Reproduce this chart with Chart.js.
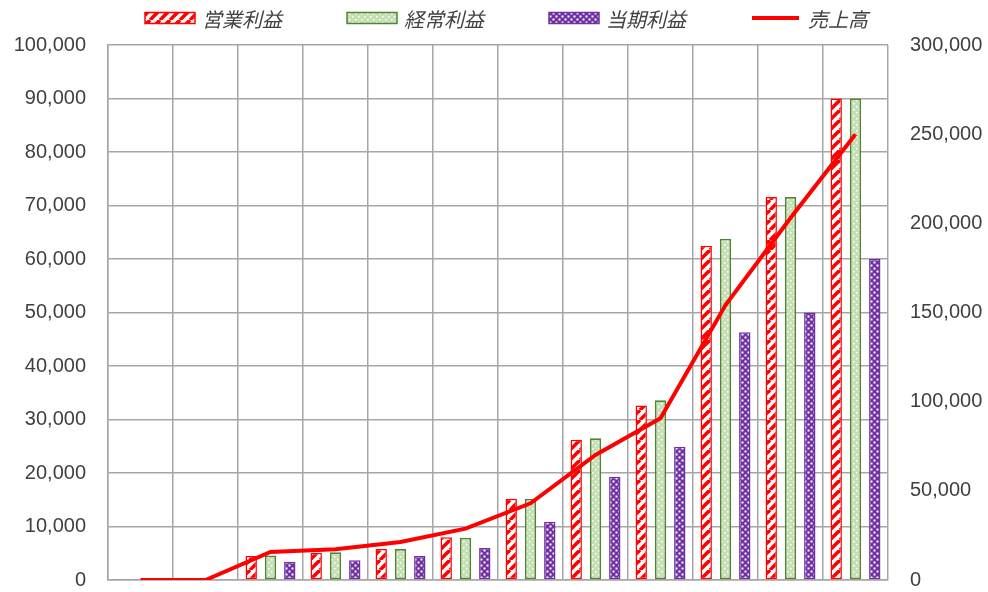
<!DOCTYPE html>
<html>
<head>
<meta charset="utf-8">
<script src="https://cdn.jsdelivr.net/npm/chart.js@4/dist/chart.umd.min.js"></script>
<style>
  html, body { margin: 0; padding: 0; background: #fff; }
  #wrap { width: 988px; height: 592px; }
</style>
</head>
<body>
<div id="wrap"><canvas id="myChart" width="988" height="592"></canvas></div>
<script>
// chart data
const categories = ['', '', '', '', '', '', '', '', '', '', '', ''];
const seriesNames = ['営業利益', '経常利益', '当期利益', '売上高'];
const operatingProfit = [null, null, 4500, 5100, 5800, 8000, 15200, 26200, 32600, 62500, 71600, 90000];
const ordinaryProfit  = [null, null, 4600, 5200, 5800, 7900, 15200, 26500, 33600, 63800, 71600, 90000];
const netProfit       = [null, null, 3400, 3700, 4500, 6000, 10900, 19300, 24900, 46300, 50000, 60000];
const sales           = [0, 0, 15700, 17200, 21300, 28800, 43000, 70100, 90700, 154200, 203000, 250000];
const leftTicks = { max: 100000, step: 10000 };
const rightTicks = { max: 300000, step: 50000 };

// fill patterns for the bars
function makePattern(size, draw) {
  const c = document.createElement('canvas');
  c.width = size;
  c.height = size;
  const p = c.getContext('2d');
  draw(p, size);
  return p.createPattern(c, 'repeat');
}

const redHatch = makePattern(10, (p, s) => {
  p.fillStyle = '#ffffff';
  p.fillRect(0, 0, s, s);
  p.strokeStyle = '#ff0000';
  p.lineWidth = 3.6;
  for (let k = -1; k <= 1; k++) {
    p.beginPath();
    p.moveTo(k * s, s);
    p.lineTo(k * s + s, 0);
    p.stroke();
  }
});

const greenDots = makePattern(6, (p, s) => {
  p.fillStyle = '#c5e0b4';
  p.fillRect(0, 0, s, s);
  p.fillStyle = '#ffffff';
  p.fillRect(1, 1, 1.5, 1.5);
  p.fillRect(4, 4, 1.5, 1.5);
});

const purpleCheck = makePattern(6, (p, s) => {
  p.fillStyle = '#7030a0';
  p.fillRect(0, 0, s, s);
  p.fillStyle = '#ffffff';
  p.fillRect(0.5, 0.5, 2, 2);
  p.fillRect(3.5, 3.5, 2, 2);
});

// legend drawn by hand so the spacing can follow the original
const customLegend = {
  id: 'customLegend',
  afterDraw(chart) {
    const ctx = chart.ctx;
    const boxW = 50, boxH = 11, gap = 7, spacing = 65;
    const y = 18;
    let x = 145;
    ctx.save();
    ctx.font = 'italic 20px "Noto Sans CJK JP"';
    ctx.textBaseline = 'middle';
    chart.data.datasets.forEach(ds => {
      if (ds.type === 'line') {
        ctx.strokeStyle = ds.borderColor;
        ctx.lineWidth = ds.borderWidth;
        ctx.beginPath();
        ctx.moveTo(x + 1, y);
        ctx.lineTo(x + boxW - 2, y);
        ctx.stroke();
      } else {
        ctx.fillStyle = ds.backgroundColor;
        ctx.fillRect(x, y - boxH / 2, boxW, boxH);
        ctx.strokeStyle = ds.borderColor;
        ctx.lineWidth = 1.5;
        ctx.strokeRect(x, y - boxH / 2, boxW, boxH);
      }
      ctx.fillStyle = '#404040';
      ctx.fillText(ds.label, x + boxW + gap, y + 1);
      x += boxW + gap + ctx.measureText(ds.label).width + spacing;
    });
    ctx.restore();
  }
};

Chart.defaults.font.family = '"Liberation Sans", Arial, sans-serif';
Chart.defaults.font.size = 20;
Chart.defaults.color = '#404040';

const gridColor = '#a6a6a6';

// fixed axis widths, and no extra room kept for the end labels
function fixWidth(w) {
  return (scale) => {
    scale.width = w;
    scale.paddingTop = 0;
    scale.paddingBottom = 0;
  };
}

const ctx = document.getElementById('myChart').getContext('2d');
const myChart = new Chart(ctx, {
  data: {
    labels: categories,
    datasets: [
      {
        type: 'bar',
        label: seriesNames[0],
        data: operatingProfit,
        backgroundColor: redHatch,
        borderColor: '#ff0000',
        borderWidth: 1.5,
        yAxisID: 'y',
        order: 1,
      },
      {
        type: 'bar',
        label: seriesNames[1],
        data: ordinaryProfit,
        backgroundColor: greenDots,
        borderColor: '#548235',
        borderWidth: 1.8,
        yAxisID: 'y',
        order: 1,
      },
      {
        type: 'bar',
        label: seriesNames[2],
        data: netProfit,
        backgroundColor: purpleCheck,
        borderColor: '#7030a0',
        borderWidth: 1.5,
        yAxisID: 'y',
        order: 1,
      },
      {
        type: 'line',
        label: seriesNames[3],
        data: sales,
        borderColor: '#ff0000',
        backgroundColor: '#ff0000',
        borderWidth: 4,
        pointRadius: 0,
        tension: 0,
        yAxisID: 'y2',
        order: 0,
      }
    ]
  },
  options: {
    responsive: false,
    animation: false,
    layout: { padding: { top: 45, bottom: 12, left: 0, right: 0 } },
    datasets: {
      bar: { categoryPercentage: 0.89, barPercentage: 0.59, borderSkipped: false }
    },
    plugins: {
      legend: { display: false },
      tooltip: { enabled: false }
    },
    scales: {
      x: {
        offset: true,
        ticks: { display: false },
        grid: { offset: true, color: gridColor, lineWidth: 1.5, drawTicks: false },
        border: { color: gridColor, width: 1.5 },
        afterFit: (scale) => { scale.height = 0; }
      },
      y: {
        position: 'left',
        min: 0,
        max: leftTicks.max,
        ticks: {
          stepSize: leftTicks.step,
          padding: 22,
          callback: (value) => value.toLocaleString('en-US')
        },
        grid: { color: gridColor, lineWidth: 1.5, drawTicks: false },
        border: { color: gridColor, width: 1.5 },
        afterFit: fixWidth(108)
      },
      y2: {
        position: 'right',
        min: 0,
        max: rightTicks.max,
        ticks: {
          stepSize: rightTicks.step,
          padding: 22,
          callback: (value) => value.toLocaleString('en-US')
        },
        grid: { drawOnChartArea: false, drawTicks: false },
        border: { display: false },
        afterFit: fixWidth(100)
      }
    }
  },
  plugins: [customLegend]
});
</script>
</body>
</html>
